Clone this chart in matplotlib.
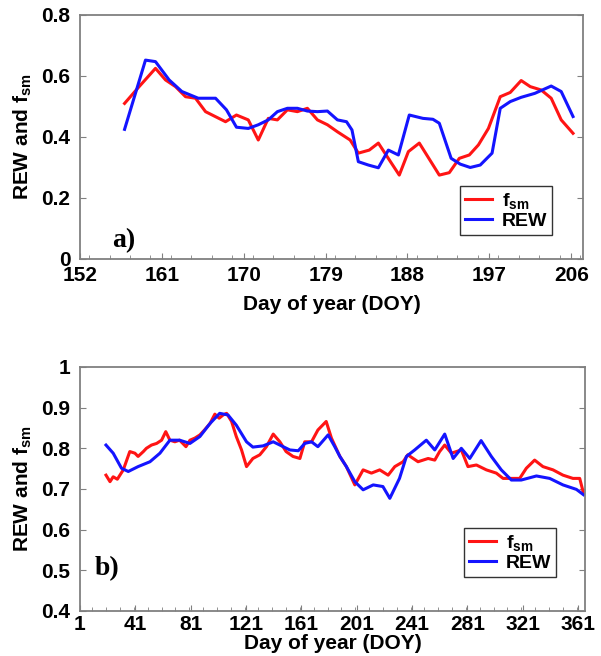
import matplotlib.pyplot as plt
from matplotlib.ticker import MultipleLocator

plt.rcParams['font.family'] = ['Liberation Sans', 'DejaVu Sans']
plt.rcParams['font.weight'] = 'bold'
plt.rcParams['mathtext.fontset'] = 'custom'
plt.rcParams['mathtext.rm'] = 'Liberation Sans:bold'
plt.rcParams['mathtext.default'] = 'rm'

# (a) summer period
doy_a_fsm = [156.9, 158.5, 160.3, 161.4, 162.5, 163.6, 164.7, 165.8, 168.0, 169.2,
             170.5, 171.6, 172.7, 173.7, 174.8, 175.9, 177.0, 178.1, 179.2, 180.3,
             181.7, 182.6, 183.8, 184.8, 186.0, 187.1, 188.1, 189.3, 191.5, 192.6,
             193.7, 194.8, 195.8, 196.9, 198.2, 199.3, 200.5, 201.5, 202.7, 203.8,
             204.9, 206.2]
fsm_a = [0.51, 0.565, 0.625, 0.587, 0.565, 0.532, 0.527, 0.483, 0.45, 0.472,
         0.456, 0.39, 0.461, 0.456, 0.489, 0.483, 0.494, 0.456, 0.44, 0.417,
         0.39, 0.347, 0.357, 0.38, 0.325, 0.275, 0.352, 0.38, 0.275, 0.283,
         0.33, 0.341, 0.374, 0.428, 0.532, 0.546, 0.585, 0.565, 0.554, 0.527,
         0.456, 0.412]

doy_a_rew = [156.9, 159.2, 160.3, 161.8, 163.2, 165.0, 166.9, 168.1, 169.2, 170.5,
             171.6, 172.7, 173.7, 174.8, 175.9, 177.0, 178.1, 179.2, 180.3, 181.3,
             181.9, 182.6, 183.7, 184.8, 185.9, 187.0, 188.2, 189.7, 190.8, 191.5,
             192.8, 193.8, 194.9, 196.0, 197.3, 198.2, 199.3, 200.5, 202.0, 203.8,
             204.9, 206.2]
rew_a = [0.425, 0.652, 0.647, 0.587, 0.549, 0.527, 0.527, 0.489, 0.432, 0.428,
         0.44, 0.456, 0.483, 0.494, 0.494, 0.485, 0.483, 0.485, 0.456, 0.45,
         0.423, 0.319, 0.308, 0.299, 0.357, 0.341, 0.472, 0.461, 0.458, 0.445,
         0.33, 0.311, 0.30, 0.308, 0.347, 0.494, 0.516, 0.53, 0.543, 0.567,
         0.549, 0.467]

# (b) whole year
doy_b_fsm = [19.8, 22.7, 25, 28, 32.3, 37, 40.7, 43, 46.8, 49, 52.7, 56.4, 60, 63,
             66, 69.6, 73, 77.6, 80.5, 84, 87.7, 91, 95, 98.5, 101.6, 104.5, 107,
             110.6, 114, 117.8, 121.4, 126, 131, 135.8, 140.7, 145.5, 150, 155,
             160, 163.5, 168.4, 173, 179, 182.8, 188.9, 193.6, 199.7, 205.7,
             211.7, 217.7, 223.8, 228.6, 234.6, 238, 245.4, 252.7, 257.5, 261,
             264.7, 269.5, 276.7, 281.5, 287.6, 294.8, 302, 306.9, 314, 318.9,
             323.7, 329.7, 335.7, 343, 350.2, 357.4, 362.3, 365]
fsm_b = [0.734, 0.718, 0.73, 0.724, 0.747, 0.792, 0.788, 0.78, 0.792, 0.8, 0.808,
         0.812, 0.82, 0.841, 0.82, 0.816, 0.82, 0.804, 0.82, 0.825, 0.833, 0.845,
         0.861, 0.884, 0.874, 0.882, 0.886, 0.866, 0.829, 0.796, 0.755, 0.775,
         0.784, 0.804, 0.835, 0.816, 0.792, 0.78, 0.775, 0.816, 0.816, 0.845,
         0.866, 0.825, 0.78, 0.755, 0.71, 0.747, 0.739, 0.747, 0.734, 0.755,
         0.767, 0.784, 0.767, 0.775, 0.771, 0.792, 0.808, 0.788, 0.796, 0.755,
         0.759, 0.747, 0.739, 0.726, 0.726, 0.726, 0.751, 0.771, 0.755, 0.747,
         0.734, 0.726, 0.726, 0.69]

doy_b_rew = [19.8, 25, 31, 35.9, 43, 51.6, 58.8, 66, 73, 80.5, 87.7, 95, 102, 108,
             114, 121.4, 126, 133.4, 140.7, 147.9, 152.7, 158.8, 163.5, 168.4,
             173, 180.4, 185.2, 188.9, 193.6, 199.7, 205.7, 213, 220, 225, 232,
             237, 243, 251.4, 257.5, 264.7, 270.8, 276.7, 282.8, 291, 298.4,
             305.6, 312.9, 320, 331, 340.6, 350.2, 359.9, 365]
rew_b = [0.808, 0.788, 0.751, 0.743, 0.755, 0.767, 0.788, 0.82, 0.82, 0.812,
         0.829, 0.861, 0.886, 0.882, 0.857, 0.816, 0.803, 0.806, 0.816, 0.804,
         0.796, 0.794, 0.812, 0.816, 0.804, 0.833, 0.804, 0.78, 0.755, 0.718,
         0.698, 0.71, 0.706, 0.677, 0.726, 0.78, 0.796, 0.82, 0.796, 0.835,
         0.775, 0.8, 0.775, 0.819, 0.78, 0.747, 0.722, 0.722, 0.732, 0.726,
         0.71, 0.699, 0.686]

fig = plt.figure(figsize=(6.01, 6.56), dpi=100)
ax1 = fig.add_axes([0.1331, 0.6052, 0.837, 0.372])
ax2 = fig.add_axes([0.1331, 0.0686, 0.840, 0.372])


def style(ax, xpad, labelpad):
    for s in ax.spines.values():
        s.set_color('#808080')
        s.set_linewidth(1.3)
    ax.tick_params(which='both', direction='in', color='#808080', right=True,
                   top=False, labelsize=15)
    ax.tick_params(axis='x', pad=xpad)
    ax.tick_params(axis='y', pad=7)
    ax.tick_params(which='major', length=4)
    ax.tick_params(which='minor', length=3, right=False)
    ax.set_xlabel('Day of year (DOY)', fontsize=15, fontweight='bold',
                  labelpad=labelpad)
    ax.set_ylabel('REW and f$_{sm}$', fontsize=15, fontweight='bold', labelpad=5)


def add_legend(ax, anchor):
    leg = ax.legend(loc='lower right', bbox_to_anchor=anchor, fontsize=14,
                    handlelength=1.4, fancybox=False, edgecolor='black',
                    borderpad=0.25, labelspacing=0.1, handletextpad=0.5,
                    borderaxespad=0)
    leg.get_frame().set_linewidth(1.0)


ax1.plot(doy_a_fsm, fsm_a, color='#ff1414', lw=2.2, label='f$_{sm}$')
ax1.plot(doy_a_rew, rew_a, color='#1414ff', lw=2.2, label='REW')
ax1.set_xlim(152, 207.3)
ax1.set_ylim(0, 0.8)
ax1.set_xticks([152, 161, 170, 179, 188, 197, 206])
ax1.xaxis.set_minor_locator(MultipleLocator(2.25))
ax1.set_yticks([0, 0.2, 0.4, 0.6, 0.8])
ax1.set_yticklabels(['0', '0.2', '0.4', '0.6', '0.8'])
style(ax1, 5, 7)
ax1.text(0.064, 0.05, 'a)', transform=ax1.transAxes, fontsize=20,
         fontweight='bold', family='Liberation Serif')
add_legend(ax1, (0.938, 0.098))

ax2.plot(doy_b_fsm, fsm_b, color='#ff1414', lw=2.2, label='f$_{sm}$')
ax2.plot(doy_b_rew, rew_b, color='#1414ff', lw=2.2, label='REW')
ax2.set_xlim(1, 366)
ax2.set_ylim(0.4, 1.0)
ax2.set_xticks([1, 41, 81, 121, 161, 201, 241, 281, 321, 361])
ax2.xaxis.set_minor_locator(MultipleLocator(10))
ax2.set_yticks([0.4, 0.5, 0.6, 0.7, 0.8, 0.9, 1.0])
ax2.set_yticklabels(['0.4', '0.5', '0.6', '0.7', '0.8', '0.9', '1'])
style(ax2, 3, 0)
ax2.text(0.03, 0.148, 'b)', transform=ax2.transAxes, fontsize=20,
         fontweight='bold', family='Liberation Serif')
add_legend(ax2, (0.943, 0.139))

fig.savefig('out.png', dpi=100)
